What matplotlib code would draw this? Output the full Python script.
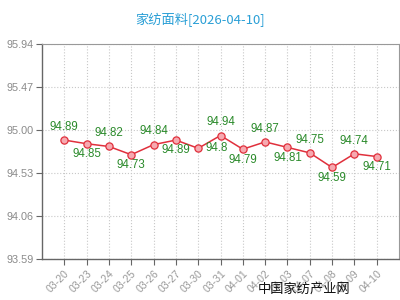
import matplotlib
matplotlib.use("Agg")
import matplotlib.pyplot as plt

plt.rcParams['font.family'] = ['Liberation Sans', 'Noto Sans CJK SC', 'DejaVu Sans']

# --- data ---
dates = ["03-20", "03-23", "03-24", "03-25", "03-26", "03-27", "03-30", "03-31",
         "04-01", "04-02", "04-03", "04-07", "04-08", "04-09", "04-10"]
values = [94.89, 94.85, 94.82, 94.73, 94.84, 94.89, 94.8, 94.94,
          94.79, 94.87, 94.81, 94.75, 94.59, 94.74, 94.71]
# where each value label sits relative to its point
label_side = ["up", "down", "up", "down", "up", "down", "right", "up",
              "down", "up", "down", "up", "down", "up", "down"]
yticks = [93.59, 94.06, 94.53, 95.00, 95.47, 95.94]
title = "家纺面料[2026-04-10]"
watermark = "中国家纺产业网"

fig = plt.figure(figsize=(4, 3), dpi=100)
ax = fig.add_axes([0.105, 0.137, 0.8925, 0.716])

x = list(range(len(values)))
ax.plot(x, values, color="#e0303c", lw=1.1, marker="o", ms=5.2,
        mfc="#f6a9b0", mec="#e0303c", mew=0.9, zorder=3)

offsets = {"up": ((0, 9.5), "center"), "down": ((0, -7.5), "center"),
           "right": ((5, 0), "left")}
for i, (v, side) in enumerate(zip(values, label_side)):
    off, ha = offsets[side]
    ax.annotate(f"{v:g}", (i, v), xytext=off, textcoords="offset points",
                ha=ha, va="center", fontsize=8.3, color="#2a8a2a")

ax.set_xlim(-1, len(values))
ax.set_ylim(yticks[0], yticks[-1])
ax.set_yticks(yticks)
ax.set_yticklabels([f"{t:.2f}" for t in yticks])
ax.set_xticks(x)
ax.set_xticklabels(dates, rotation=45, ha="right", rotation_mode="anchor")

ax.tick_params(axis="y", length=4, color="#666666", labelsize=7.8, labelcolor="#8a8a8a", pad=2)
ax.tick_params(axis="x", length=4, color="#666666", labelsize=7.6, labelcolor="#999999", pad=3)

ax.grid(True, ls=":", color="#c8c8c8", lw=0.8)
ax.set_axisbelow(True)

for side in ["left", "bottom"]:
    ax.spines[side].set_color("#666666")
    ax.spines[side].set_linewidth(1.0)
for side in ["top", "right"]:
    ax.spines[side].set_color("#999999")
    ax.spines[side].set_linewidth(0.8)

fig.text(0.5, 0.933, title, ha="center", va="center", fontsize=9.5,
         color="#2a9fd6", family=["Noto Sans CJK SC", "DejaVu Sans"])
fig.text(0.645, 0.035, watermark, ha="left", va="center", fontsize=9.5,
         color="#111111", family=["Noto Sans CJK SC", "DejaVu Sans"])

fig.savefig("out.png", dpi=100)
